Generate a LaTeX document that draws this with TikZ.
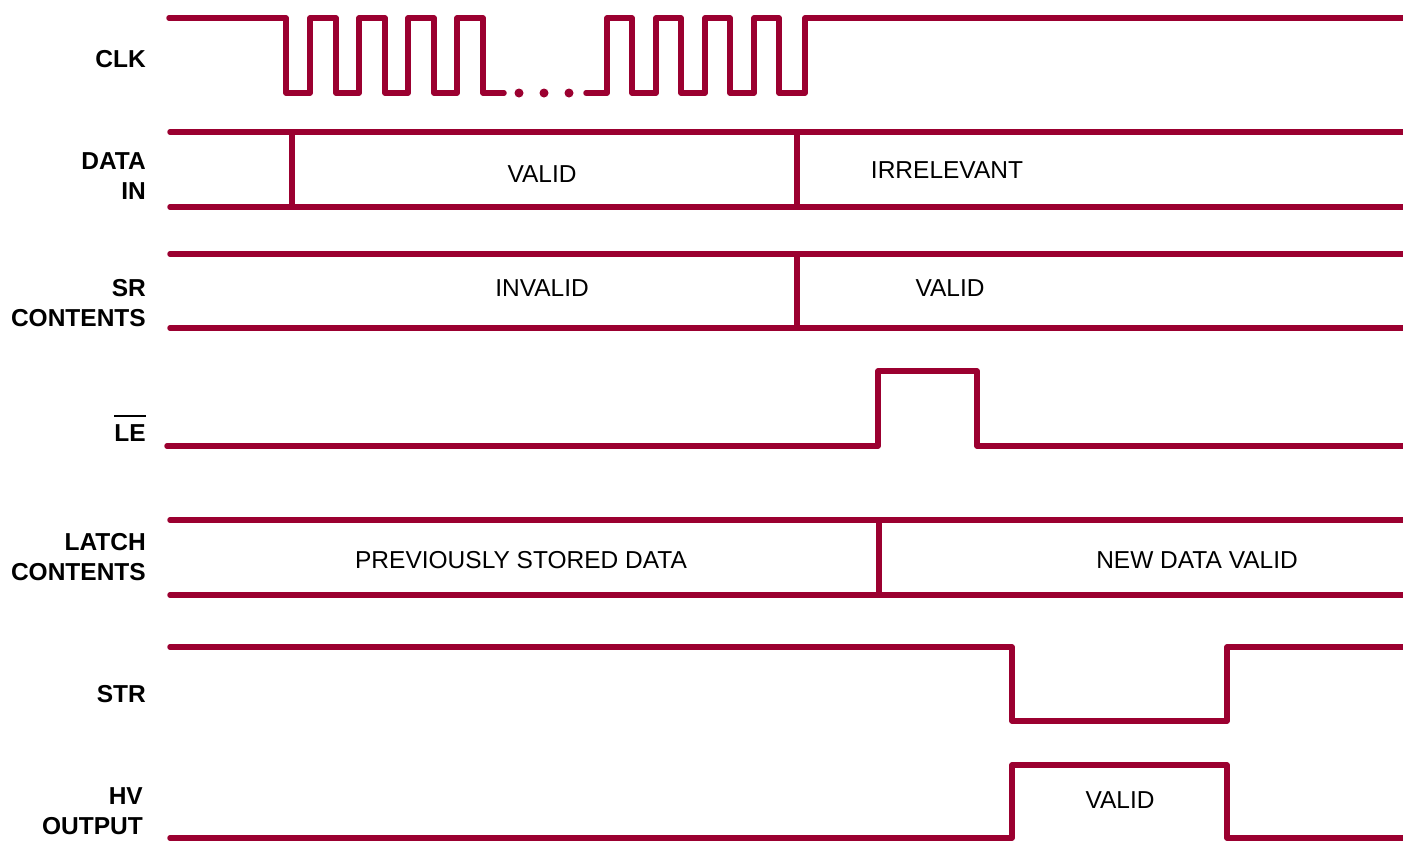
\documentclass[tikz,border=0pt]{standalone}
\usepackage{fontspec}
\setmainfont{Liberation Sans}
\definecolor{wavered}{RGB}{155,0,48}
\tikzset{
	sig/.style={line width=5.5pt, color=wavered, line cap=round, line join=round},
	lbl/.style={anchor=east, align=right, inner sep=0pt, font=\fontsize{24.5}{30}\selectfont\bfseries},
	txt/.style={inner sep=0pt, font=\fontsize{24.5}{30}\selectfont}
}

\begin{document}
\begin{tikzpicture}[x=1pt,y=-1pt]
			%%%%% START %%%%%
			\useasboundingbox (0,0) rectangle (1403,841);
			
			% CLK
			\node[lbl] (lbl-clk) at (146,59) {CLK};
			\draw[sig] (169,18) -- (286,18) -- (286,93)
				\foreach \x in {310,359,408,457} { -- (\x,93) -- (\x,18) -- (\x+26,18) -- (\x+26,93) }
				-- (504,93);
			\foreach \x in {519,544,569} \fill[wavered] (\x,93) circle (4.5);
			\draw[sig] (586,93)
				\foreach \x in {607,656,705,754} { -- (\x,93) -- (\x,18) -- (\x+25,18) -- (\x+25,93) }
				-- (805,93) -- (805,18) -- (1410,18);
			
			% DATA IN
			\node[lbl] (lbl-data) at (146,176) {DATA\\IN};
			\draw[sig] (170,132) -- (1410,132);
			\draw[sig] (170,207) -- (1410,207);
			\draw[sig] (292,132) -- (292,207);
			\draw[sig] (797,132) -- (797,207);
			\node[txt] (data-valid) at (542,174) {VALID};
			\node[txt] (data-irr) at (947,170) {IRRELEVANT};
			
			% SR CONTENTS
			\node[lbl] (lbl-sr) at (146,303) {SR\\CONTENTS};
			\draw[sig] (170,254) -- (1410,254);
			\draw[sig] (170,328) -- (1410,328);
			\draw[sig] (797,254) -- (797,328);
			\node[txt] (sr-invalid) at (542,288) {INVALID};
			\node[txt] (sr-valid) at (950,288) {VALID};
			
			% LE
			\node[lbl] (lbl-le) at (146,433) {LE};
			\draw[line width=1.8pt] ([yshift=8pt]lbl-le.north west) -- ([yshift=8pt]lbl-le.north east);
			\draw[sig] (167,446) -- (878,446) -- (878,371) -- (977,371) -- (977,446) -- (1410,446);
			
			% LATCH CONTENTS
			\node[lbl] (lbl-latch) at (146,557) {LATCH\\CONTENTS};
			\draw[sig] (170,520) -- (1410,520);
			\draw[sig] (170,595) -- (1410,595);
			\draw[sig] (879,520) -- (879,595);
			\node[txt] (latch-old) at (521,560) {PREVIOUSLY STORED DATA};
			\node[txt] (latch-new) at (1197,560) {NEW DATA VALID};
			
			% STR
			\node[lbl] (lbl-str) at (146,694) {STR};
			\draw[sig] (170,647) -- (1012,647) -- (1012,721) -- (1227,721) -- (1227,647) -- (1410,647);
			
			% HV OUTPUT
			\node[lbl] (lbl-hv) at (143,811) {HV\\OUTPUT};
			\draw[sig] (170,838) -- (1012,838) -- (1012,765) -- (1227,765) -- (1227,838) -- (1410,838);
			\node[txt] (hv-valid) at (1120,800) {VALID};
			
			%%%%% END %%%%%
\end{tikzpicture}
\end{document}
